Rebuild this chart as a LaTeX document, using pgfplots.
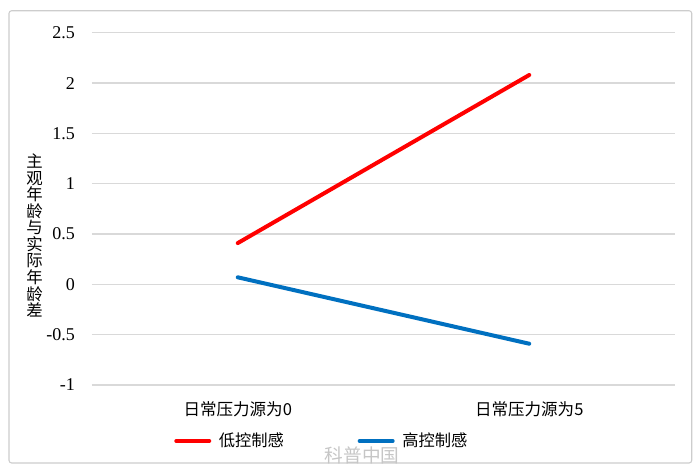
\documentclass[border=0pt]{standalone}
\usepackage{fontspec}
\setmainfont{Liberation Serif}
\newfontfamily\cjk{Noto Sans CJK SC}
\usepackage{pgfplots}
\pgfplotsset{compat=1.18}
\definecolor{gridgray}{RGB}{217,217,217}
\definecolor{framegray}{RGB}{205,205,205}
\definecolor{lowred}{RGB}{255,0,0}
\definecolor{highblue}{RGB}{0,112,192}
\begin{document}
\begin{tikzpicture}
\useasboundingbox (0,0) rectangle (525pt,356.25pt);
\fill[white] (0,0) rectangle (525pt,356.25pt);
\draw[framegray, line width=0.8pt, rounded corners=2pt] (6.75pt,9pt) rectangle (518.8pt,348.2pt);
\begin{axis}[
  at={(69pt,67.5pt)}, anchor=south west,
  scale only axis, width=437.25pt, height=264.2pt,
  xmin=-0.5, xmax=1.5, ymin=-1, ymax=2.5,
  xtick={0,1}, xticklabels={日常压力源为0,日常压力源为5},
  ytick={-1,-0.5,0,0.5,1,1.5,2,2.5},
  yticklabels={-1,-0.5,0,0.5,1,1.5,2,2.5},
  axis line style={draw=none},
  major tick length=0pt,
  ymajorgrids,
  major grid style={gridgray, line width=1.1pt},
  yticklabel style={font=\fontsize{13.5pt}{14pt}\selectfont, anchor=east, xshift=-9.4pt},
  xticklabel style={font=\cjk\fontsize{12.4pt}{13pt}\selectfont, anchor=center, yshift=-18pt},
  ylabel={主\\观\\年\\龄\\与\\实\\际\\年\\龄\\差},
  ylabel style={at={(axis description cs:0,0.424)}, rotate=-90, anchor=center, xshift=-43pt, align=center, inner sep=0pt, font=\cjk\fontsize{12.3pt}{12.4pt}\selectfont},
  legend columns=2,
  legend style={at={(axis description cs:0,0)}, anchor=west, xshift=61.5pt, yshift=-42pt, draw=none, fill=none, inner sep=0pt, font=\cjk\fontsize{12.2pt}{13pt}\selectfont,
    /tikz/every even column/.append style={column sep=53.25pt}},
  legend image code/.code={\draw[#1, line width=3pt] (0pt,0pt) -- (24.75pt,0pt); \path (28.5pt,0pt);},
  clip=false,
]
\addplot[lowred, line width=3pt, line cap=round] coordinates {(0,0.41) (1,2.08)};
\addlegendentry{低控制感}
\addplot[highblue, line width=3pt, line cap=round] coordinates {(0,0.07) (1,-0.59)};
\addlegendentry{高控制感}
\end{axis}
\node[text=gray!45, font=\cjk\fontsize{14pt}{14pt}\selectfont] at (271.5pt,15pt) {科普中国};
\end{tikzpicture}
\end{document}
